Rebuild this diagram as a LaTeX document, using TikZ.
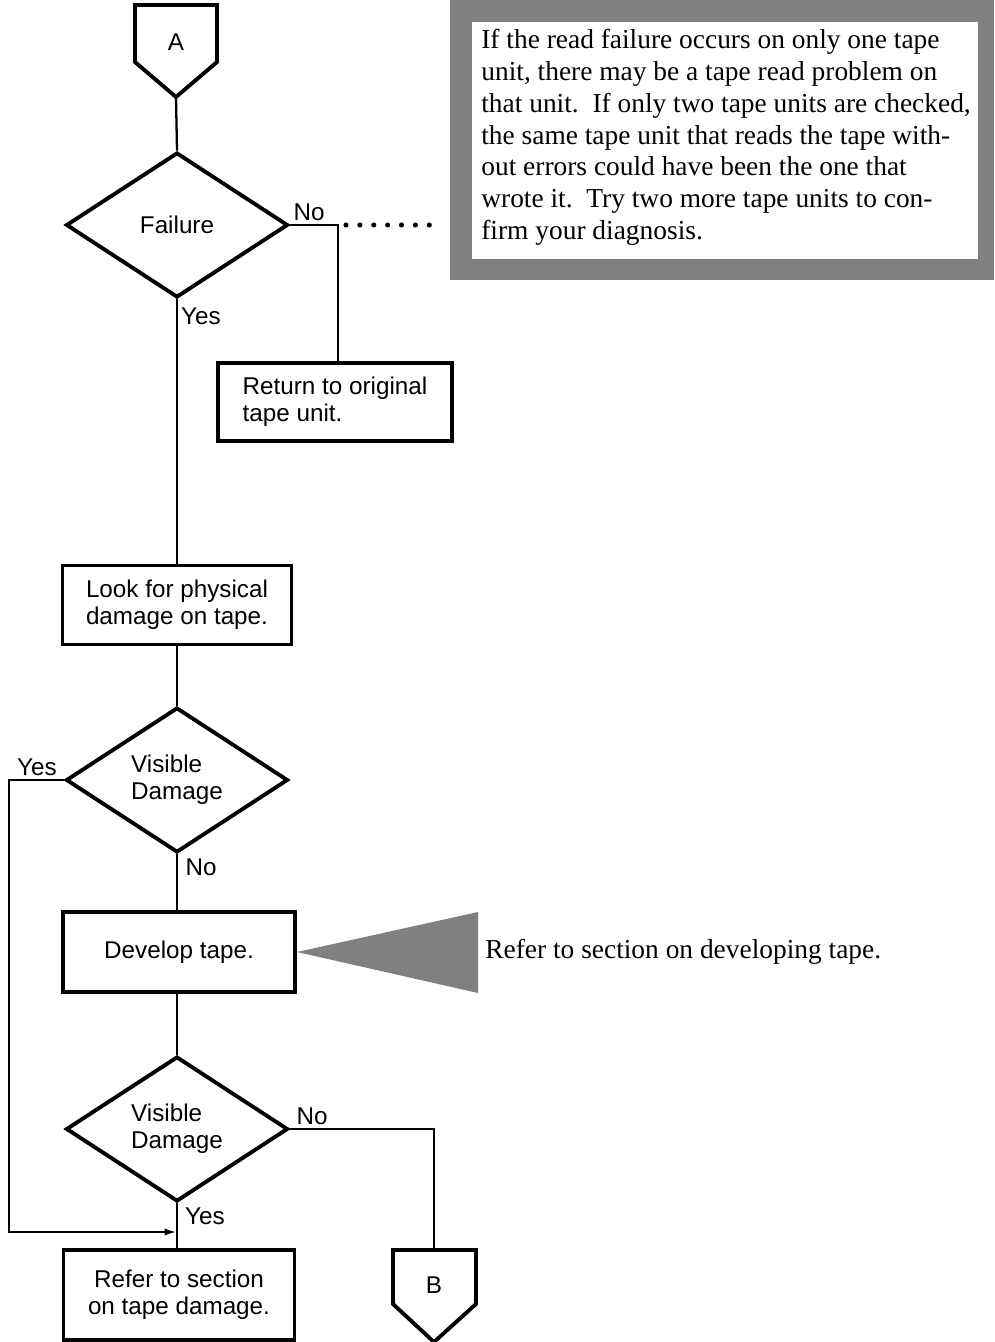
\documentclass[tikz,border=0pt]{standalone}
\usepackage{fontspec}
\setmainfont{Liberation Serif}
\newfontfamily\flowfont{Liberation Sans}
\usetikzlibrary{shapes.geometric,arrows.meta}

\tikzset{
  flowtext/.style={font=\flowfont\fontsize{13.8}{15.5}\selectfont},
  lbltext/.style={font=\flowfont\fontsize{13.8}{15.5}\selectfont},
  notetext/.style={font=\rmfamily\fontsize{15.6}{18.1}\selectfont},
  stepbox/.style={draw, line width=2.2pt, inner sep=0pt, flowtext},
  decision/.style={draw, diamond, line width=2.2pt, inner sep=0pt, aspect=1.53,
                   minimum width=4.44cm, minimum height=2.9cm, flowtext},
  offpage/.style={line width=2.2pt, line join=miter},
  link/.style={line width=1.3pt},
  lbl/.style={lbltext, inner sep=0pt},
  halftone/.style={fill=black!50},
}

\begin{document}
\begin{tikzpicture}[x=0.02cm, y=-0.02cm]
\useasboundingbox (0,0) rectangle (994,1342);

% off-page connector A
\draw[offpage] (135,5) -- (217,5) -- (217,62) -- (176,97) -- (135,62) -- cycle;
\node[flowtext] (A) at (176,42) {A};
\coordinate (Atip) at (176,97);

% process boxes and decisions
\node[decision] (fail) at (177,225) {Failure};
\node[stepbox, minimum width=4.68cm, minimum height=1.56cm, align=left] (ret) at (335,402)
  {Return to original\\tape unit.};
\node[stepbox, minimum width=4.58cm, minimum height=1.58cm, align=left] (look) at (177,605)
  {Look for physical\\damage on tape.};
\node[decision, align=left] (vis1) at (177,780) {Visible\\Damage};
\node[stepbox, minimum width=4.64cm, minimum height=1.6cm] (dev) at (179,952) {Develop tape.};
\node[decision, align=left] (vis2) at (177,1129) {Visible\\Damage};
\node[stepbox, minimum width=4.62cm, minimum height=1.8cm, align=center] (ref) at (179,1295)
  {Refer to section\\on tape damage.};

% off-page connector B
\draw[offpage] (393,1250) -- (476,1250) -- (476,1304) -- (434,1342) -- (393,1304) -- cycle;
\node[flowtext] (B) at (434,1285) {B};
\coordinate (Btop) at (434,1250);

% note box
\fill[halftone] (450,0) rectangle (994,280);
\fill[white] (472,22) rectangle (978,259);
\node[notetext, anchor=north west, align=left, inner sep=0pt] (note) at (481,29)
  {If the read failure occurs on only one tape\\
   unit, there may be a tape read problem on\\
   that unit.\ \ If only two tape units are checked,\\
   the same tape unit that reads the tape with-\\
   out errors could have been the one that\\
   wrote it.\ \ Try two more tape units to con-\\
   firm your diagnosis.};
\coordinate (noteedge) at (450,225);

% pointer to the developing-tape remark
\fill[halftone] (297,952) -- (478,912) -- (478,993) -- cycle;
\node[notetext, anchor=west, inner sep=0pt] (devnote) at (485,952)
  {Refer to section on developing tape.};

% connectors
\draw[link] (Atip) -- (fail.north);
\coordinate (nj) at (338,225);
\draw[link] (fail.east) -- (nj) -- (nj |- ret.north);
\draw[line width=2.9pt, line cap=round, dash pattern=on 0pt off 7.9pt]
  ([xshift=0.16cm]nj) -- ([xshift=-0.2cm]noteedge);
\draw[link] (fail.south) -- (look.north);
\draw[link] (look.south) -- (vis1.north);
\draw[link] (vis1.south) -- (dev.north -| vis1.south);
\draw[link] (dev.south -| vis2.north) -- (vis2.north);
\coordinate (yj) at (177,1232);
\draw[link] (vis2.south) -- (ref.north -| vis2.south);
\draw[link, -{Latex[length=7pt,width=4pt]}] (vis1.west) -- (9,780) -- (9,1232) -- (yj);
\draw[link] (vis2.east) -- (Btop |- vis2.east) -- (Btop);

% branch labels
\node[lbl] (l1) at (309,212) {No};
\node[lbl] (l2) at (201,316) {Yes};
\node[lbl] (l3) at (37,767) {Yes};
\node[lbl] (l4) at (201,867) {No};
\node[lbl] (l5) at (312,1116) {No};
\node[lbl] (l6) at (205,1216) {Yes};
\end{tikzpicture}
\end{document}
